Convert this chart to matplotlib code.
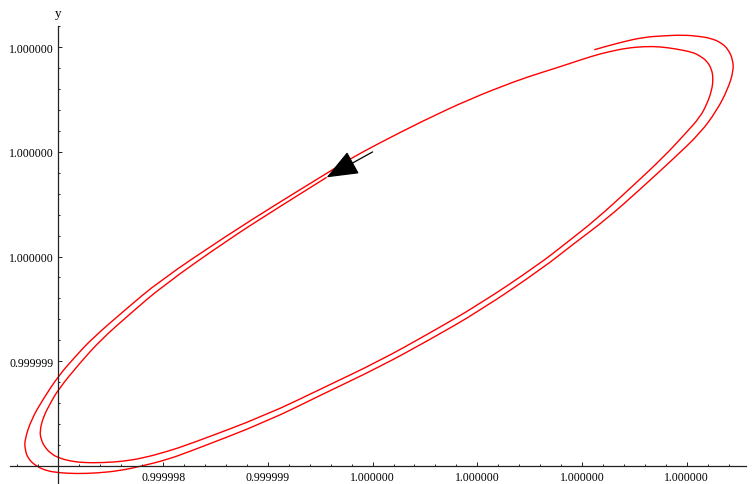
import matplotlib
matplotlib.use("Agg")
import matplotlib.pyplot as plt
import numpy as np
from matplotlib.path import Path
from matplotlib.patches import FancyArrowPatch, PathPatch
from matplotlib.ticker import FixedLocator, MultipleLocator, NullFormatter

# trajectory in micro-units, offset so the axes cross at (0, 0);
# first turn (inner) then second turn (outer)
inner_x = [2.561, 2.076, 1.606, 0.997, 0.682, 0.412, 0.204, 0.001, -0.082,
           -0.146, -0.178, -0.168, -0.130, -0.066, 0.001, 0.109, 0.236, 0.427,
           0.618, 0.809, 1.032, 1.255, 1.988, 2.525, 3.070, 3.547, 4.025, 4.579,
           4.837, 5.139, 5.458, 5.776, 5.983, 6.126, 6.193, 6.238, 6.253, 6.238,
           6.190, 6.126, 6.062, 5.904, 5.744, 5.601, 5.426, 5.267, 5.107, 4.820,
           4.598, 4.375, 3.929, 3.483, 3.038, 2.783]
inner_y = [2.757, 2.454, 2.151, 1.721, 1.450, 1.211, 0.982, 0.733, 0.590,
           0.463, 0.335, 0.255, 0.176, 0.112, 0.076, 0.045, 0.029, 0.029,
           0.042, 0.074, 0.134, 0.207, 0.485, 0.743, 1.004, 1.269, 1.546, 1.919,
           2.119, 2.358, 2.650, 2.948, 3.171, 3.331, 3.458, 3.585, 3.697, 3.793,
           3.872, 3.917, 3.952, 3.984, 4.006, 4.008, 3.993, 3.960, 3.920, 3.824,
           3.754, 3.681, 3.506, 3.298, 3.071, 2.932]
outer_x = [2.561, 2.076, 1.606, 0.968, 0.634, 0.316, 0.157, 0.001, -0.146,
           -0.257, -0.321, -0.321, -0.289, -0.209, -0.114, 0.001, 0.173, 0.364,
           0.586, 0.809, 1.032, 1.255, 1.988, 2.525, 3.070, 3.547, 4.025, 4.627,
           4.916, 5.235, 5.563, 5.887, 6.129, 6.286, 6.393, 6.446, 6.441, 6.398,
           6.327, 6.231, 6.116, 5.964, 5.773, 5.585, 5.362, 5.117]
outer_y = [2.795, 2.497, 2.199, 1.769, 1.488, 1.211, 1.039, 0.860, 0.638,
           0.446, 0.255, 0.160, 0.064, -0.006, -0.048, -0.067, -0.076, -0.070,
           -0.048, 0.000, 0.057, 0.136, 0.421, 0.685, 0.946, 1.206, 1.482, 1.890,
           2.119, 2.358, 2.650, 2.948, 3.180, 3.394, 3.601, 3.773, 3.879, 3.979,
           4.046, 4.086, 4.106, 4.118, 4.110, 4.096, 4.046, 3.977]

# direction marker: tail -> head (head sits on the start of the trajectory)
arrow_tail = (3.0, 3.0)
arrow_head = (inner_x[0], inner_y[0])

x_ticks = [1, 2, 3, 4, 5, 6]
x_labels = ["0.999998", "0.999999", "1.000000", "1.000000", "1.000000", "1.000000"]
y_ticks = [1, 2, 3, 4]
y_labels = ["0.999999", "1.000000", "1.000000", "1.000000"]


def smooth_path(xs, ys):
    # quadratic bezier through segment midpoints, so the polyline corners round off
    pts = np.column_stack([xs, ys])
    verts = [pts[0]]
    codes = [Path.MOVETO]
    for i in range(1, len(pts) - 1):
        verts += [pts[i], (pts[i] + pts[i + 1]) / 2]
        codes += [Path.CURVE3, Path.CURVE3]
    verts.append(pts[-1])
    codes.append(Path.LINETO)
    return Path(verts, codes)


plt.rcParams["font.family"] = ["Liberation Serif", "DejaVu Serif"]
axis_color = "#222222"

fig = plt.figure(figsize=(7.56, 4.85), dpi=100)
ax = fig.add_axes([0.01362, 0.001, 0.9737, 0.9425])
ax.set_xlim(-0.46, 6.57)
ax.set_ylim(-0.17, 4.2)

traj = smooth_path(inner_x + outer_x, inner_y + outer_y)
ax.add_patch(PathPatch(traj, facecolor="none", edgecolor="#ff0000", lw=1.0))

ax.add_patch(FancyArrowPatch(arrow_tail, arrow_head,
                             arrowstyle="-|>,head_length=1.0,head_width=0.4",
                             mutation_scale=20, color="black", lw=0.9,
                             shrinkA=0, shrinkB=0))

for side in ("top", "right"):
    ax.spines[side].set_visible(False)
for side in ("left", "bottom"):
    ax.spines[side].set_position(("data", 0))
    ax.spines[side].set_color(axis_color)
    ax.spines[side].set_linewidth(0.9)

ax.xaxis.set_major_locator(FixedLocator(x_ticks))
ax.set_xticklabels(x_labels)
ax.yaxis.set_major_locator(FixedLocator(y_ticks))
ax.set_yticklabels(y_labels)
ax.xaxis.set_minor_locator(MultipleLocator(0.2))
ax.yaxis.set_minor_locator(MultipleLocator(0.2))
ax.xaxis.set_minor_formatter(NullFormatter())
ax.yaxis.set_minor_formatter(NullFormatter())

ax.tick_params(which="both", direction="in", color=axis_color, width=0.7,
               labelsize=8.5, pad=3.5, labelcolor="black")
ax.tick_params(which="major", length=3.0)
ax.tick_params(which="minor", length=1.7)

ax.annotate("y", xy=(0, 4.2), xytext=(-0.5, 10), textcoords="offset points",
            ha="center", va="center", fontsize=9.5)

fig.savefig("out.png", dpi=100)
